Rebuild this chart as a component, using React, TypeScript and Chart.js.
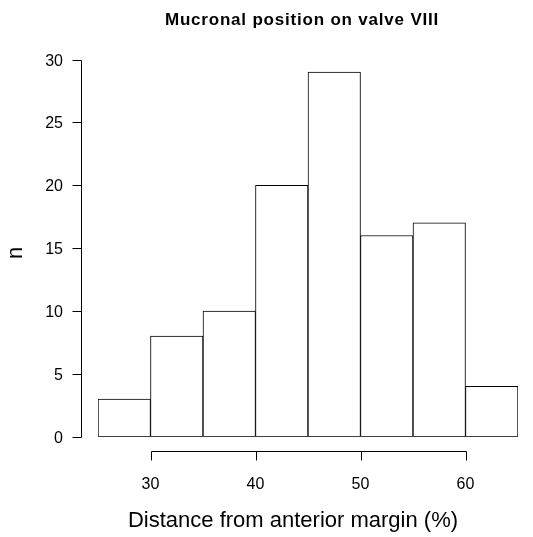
import React, { useEffect, useRef } from "react";
import { Chart, registerables } from "chart.js";

Chart.register(...registerables);

// Histogram bins (lower edge, %) and counts
const binStarts = [25, 30, 35, 40, 45, 50, 55, 60];
const binWidth = 5;
const counts = [3, 8, 10, 20, 29, 16, 17, 4];

const xTicks = [30, 40, 50, 60];
const yTicks = [0, 5, 10, 15, 20, 25, 30];

const titleText = "Mucronal position on valve VIII";
const xTitle = "Distance from anterior margin (%)";
const yTitle = "n";

const FONT = "'Liberation Sans', Arial, Helvetica, sans-serif";

const baseAxes = {
  id: "baseAxes",
  afterDraw(chart: any) {
    const ctx = chart.ctx as CanvasRenderingContext2D;
    const xs = chart.scales.x;
    const ys = chart.scales.y;
    ctx.save();
    ctx.strokeStyle = "#000";
    ctx.fillStyle = "#000";
    ctx.lineWidth = 1;

    // y axis (detached, from first to last tick)
    const yAxisX = 81.5;
    const y0 = Math.round(ys.getPixelForValue(yTicks[0])) + 0.5;
    const y1 = Math.round(ys.getPixelForValue(yTicks[yTicks.length - 1])) + 0.5;
    ctx.beginPath();
    ctx.moveTo(yAxisX, y0);
    ctx.lineTo(yAxisX, y1);
    yTicks.forEach((t) => {
      const py = Math.round(ys.getPixelForValue(t)) + 0.5;
      ctx.moveTo(yAxisX, py);
      ctx.lineTo(yAxisX - 9, py);
    });
    ctx.stroke();

    ctx.font = `16px ${FONT}`;
    ctx.textAlign = "right";
    ctx.textBaseline = "alphabetic";
    yTicks.forEach((t) => {
      ctx.fillText(String(t), 63, ys.getPixelForValue(t) + 6);
    });

    // x axis (detached)
    const xAxisY = 451.5;
    const xa = Math.round(xs.getPixelForValue(xTicks[0])) + 0.5;
    const xb = Math.round(xs.getPixelForValue(xTicks[xTicks.length - 1])) + 0.5;
    ctx.beginPath();
    ctx.moveTo(xa, xAxisY);
    ctx.lineTo(xb, xAxisY);
    xTicks.forEach((t) => {
      const px = Math.round(xs.getPixelForValue(t)) + 0.5;
      ctx.moveTo(px, xAxisY);
      ctx.lineTo(px, xAxisY + 9);
    });
    ctx.stroke();

    ctx.textAlign = "center";
    xTicks.forEach((t) => {
      ctx.fillText(String(t), xs.getPixelForValue(t), 489);
    });

    // axis titles
    ctx.font = `22px ${FONT}`;
    ctx.fillText(xTitle, 293, 527);
    ctx.save();
    ctx.translate(22, 253);
    ctx.rotate(-Math.PI / 2);
    ctx.fillText(yTitle, 0, 0);
    ctx.restore();

    // main title
    ctx.font = `bold 17px ${FONT}`;
    (ctx as any).letterSpacing = "0.8px";
    ctx.fillText(titleText, 302, 25);
    ctx.restore();
  },
};

export default function App() {
  const ref = useRef<HTMLCanvasElement | null>(null);

  useEffect(() => {
    if (!ref.current) return;
    const chart = new Chart(ref.current, {
      type: "bar",
      data: {
        datasets: [
          {
            data: binStarts.map((s, i) => ({ x: s + binWidth / 2, y: counts[i] })),
            backgroundColor: "#ffffff",
            borderColor: "#000000",
            borderWidth: 1,
            borderSkipped: false,
            barPercentage: 1,
            categoryPercentage: 1,
          },
        ],
      },
      options: {
        responsive: false,
        animation: false,
        devicePixelRatio: 1,
        layout: { padding: { left: 98, right: 15, top: 59.5, bottom: 100.3 } },
        plugins: { legend: { display: false }, tooltip: { enabled: false }, title: { display: false } },
        scales: {
          x: { type: "linear", min: 25, max: 65, display: false, offset: false },
          y: { min: 0, max: 30, display: false },
        },
      },
      plugins: [baseAxes],
    });
    return () => chart.destroy();
  }, []);

  return (
    <div style={{ position: "fixed", left: 0, top: 0, width: 533, height: 537, background: "#fff" }}>
      <canvas ref={ref} width={533} height={537} style={{ width: 533, height: 537 }} />
    </div>
  );
}
